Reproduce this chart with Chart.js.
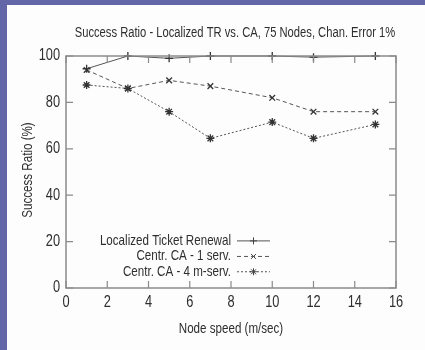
<!DOCTYPE html>
<html>
<head>
<meta charset="utf-8">
<script src="https://cdn.jsdelivr.net/npm/chart.js@4"></script>
<style>
  html, body { margin: 0; padding: 0; }
  body { width: 425px; height: 350px; background: #6467a7; overflow: hidden; position: relative; }
  #panel { position: absolute; left: 7px; top: 5px; width: 418px; height: 345px; background: #fdfdfd; }
  #panel canvas { display: block; }
</style>
</head>
<body>
<div id="panel"><canvas id="ratioChart" width="418" height="345"></canvas></div>
<script>
// 节点速度 (m/sec)
const speeds = [1, 3, 5, 7, 10, 12, 15];
// 成功率 (%)
const localizedTR = [94.5, 100, 99, 100, 100, 99.5, 100];
const centrCA1 = [94, 86, 89.5, 87, 82, 76, 76];
const centrCA4 = [87.5, 86, 76, 64.5, 71.5, 64.5, 70.5];

const seriesNames = ['Localized Ticket Renewal', 'Centr. CA - 1 serv.', 'Centr. CA - 4 m-serv.'];
const xTicks = [0, 2, 4, 6, 8, 10, 12, 14, 16];
const yTicks = [0, 20, 40, 60, 80, 100];

const chartTitle = 'Success Ratio - Localized TR vs. CA, 75 Nodes, Chan. Error 1%';
const xTitle = 'Node speed (m/sec)';
const yTitle = 'Success Ratio (%)';

const FONT = '"Liberation Sans", Arial, sans-serif';
const NARROW = 0.8;   // 窄体字效果
const INK = '#2e2e2e';
const AXIS = '#8a8a8a';
const LINE = '#555';

function toPoints(vals) {
    return vals.map((v, i) => ({ x: speeds[i], y: v }));
}

// 横向压缩的文字
function narrowText(ctx, text, x, y, align) {
    ctx.save();
    ctx.translate(x, y);
    ctx.scale(NARROW, 1);
    ctx.textAlign = align;
    ctx.fillText(text, 0, 0);
    ctx.restore();
}

const styles = [
    { dash: [], point: 'cross' },
    { dash: [4, 3], point: 'crossRot' },
    { dash: [2, 2], point: 'star' }
];

// 边框、向内刻度、标题和图例（gnuplot 风格）
const gnuplotFrame = {
    id: 'gnuplotFrame',
    afterDatasetsDraw(chart) {
        const { ctx, chartArea: a, scales } = chart;
        const xs = scales.x, ys = scales.y;
        ctx.save();
        ctx.strokeStyle = AXIS;
        ctx.lineWidth = 1.5;
        ctx.setLineDash([]);
        ctx.strokeRect(a.left, a.top, a.right - a.left, a.bottom - a.top);
        ctx.lineWidth = 1.2;
        ctx.beginPath();
        xTicks.forEach(t => {
            const px = xs.getPixelForValue(t);
            ctx.moveTo(px, a.bottom); ctx.lineTo(px, a.bottom - 7);
            ctx.moveTo(px, a.top); ctx.lineTo(px, a.top + 7);
        });
        yTicks.forEach(t => {
            const py = ys.getPixelForValue(t);
            ctx.moveTo(a.left, py); ctx.lineTo(a.left + 7, py);
            ctx.moveTo(a.right, py); ctx.lineTo(a.right - 7, py);
        });
        ctx.stroke();

        // 刻度标签
        ctx.fillStyle = INK;
        ctx.font = '16px ' + FONT;
        ctx.textBaseline = 'middle';
        xTicks.forEach(t => narrowText(ctx, String(t), xs.getPixelForValue(t), a.bottom + 15, 'center'));
        yTicks.forEach(t => narrowText(ctx, String(t), a.left - 6, ys.getPixelForValue(t), 'right'));

        // 标题
        ctx.font = '14px ' + FONT;
        narrowText(ctx, chartTitle, (a.left + a.right) / 2 + 4, a.top - 23, 'center');
        ctx.font = '14.5px ' + FONT;
        narrowText(ctx, xTitle, (a.left + a.right) / 2, a.bottom + 41, 'center');
        ctx.save();
        ctx.translate(a.left - 38, (a.top + a.bottom) / 2 - 2);
        ctx.rotate(-Math.PI / 2);
        narrowText(ctx, yTitle, 0, 0, 'center');
        ctx.restore();

        // 图例
        const textRight = xs.getPixelForValue(8);
        const lineX0 = textRight + 6, lineX1 = textRight + 39;
        const rowY = [ys.getPixelForValue(20.3), ys.getPixelForValue(13.6), ys.getPixelForValue(7)];
        ctx.font = '14.5px ' + FONT;
        chart.data.datasets.forEach((ds, i) => {
            const y = rowY[i];
            ctx.fillStyle = INK;
            narrowText(ctx, seriesNames[i], textRight, y, 'right');
            ctx.strokeStyle = LINE;
            ctx.lineWidth = 1;
            ctx.setLineDash(styles[i].dash);
            ctx.beginPath();
            ctx.moveTo(lineX0, y); ctx.lineTo(lineX1, y);
            ctx.stroke();
            ctx.setLineDash([]);
            ctx.strokeStyle = '#444';
            Chart.helpers.drawPoint(ctx, {
                pointStyle: styles[i].point, radius: 3.5, rotation: 0, borderWidth: 1
            }, (lineX0 + lineX1) / 2, y);
        });
        ctx.restore();
    }
};

const datasets = [localizedTR, centrCA1, centrCA4].map((vals, i) => ({
    label: seriesNames[i],
    data: toPoints(vals),
    borderColor: LINE,
    backgroundColor: LINE,
    borderWidth: 1,
    borderDash: styles[i].dash,
    pointStyle: styles[i].point,
    pointRadius: 4,
    pointBorderWidth: 1.3,
    pointBorderColor: '#333',
    tension: 0,
    fill: false,
    clip: false
}));

new Chart(document.getElementById('ratioChart'), {
    type: 'line',
    data: { datasets },
    options: {
        responsive: false,
        animation: false,
        devicePixelRatio: 1,
        layout: { padding: { left: 59, right: 29, top: 51, bottom: 62 } },
        plugins: { legend: { display: false }, tooltip: { enabled: false }, title: { display: false } },
        scales: {
            x: { type: 'linear', min: 0, max: 16, display: false },
            y: { min: 0, max: 100, display: false }
        }
    },
    plugins: [gnuplotFrame]
});
</script>
</body>
</html>
